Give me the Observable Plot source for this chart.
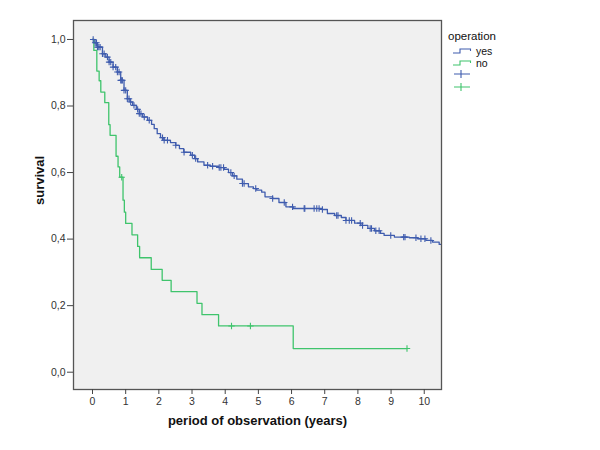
<!DOCTYPE html>
<html><head><meta charset="utf-8">
<script src="https://cdn.jsdelivr.net/npm/d3@7"></script>
<script src="https://cdn.jsdelivr.net/npm/@observablehq/plot@0.6"></script>
<style>body{margin:0;background:#fff;} svg{display:block;}</style>
</head><body><div id="chart"></div>
<script>
// Group "yes" (operation): event times and survival after each step
const yesTime = [0, 0.05, 0.15, 0.30, 0.40, 0.50, 0.62, 0.75, 0.85, 0.95, 1.05, 1.13, 1.21, 1.32, 1.41, 1.51, 1.66, 1.78, 1.86, 1.95, 2.05, 2.15, 2.35, 2.51, 2.62, 2.75, 2.96, 3.08, 3.17, 3.36, 3.55, 3.80, 3.97, 4.10, 4.22, 4.35, 4.52, 4.70, 4.85, 4.95, 5.10, 5.20, 5.43, 5.62, 5.83, 6.05, 6.92, 7.08, 7.30, 7.50, 7.64, 7.90, 8.09, 8.30, 8.50, 8.68, 8.79, 9.10, 9.55, 9.80, 10.05, 10.25, 10.45];
const yesSurv = [1.0, 0.99, 0.977, 0.957, 0.947, 0.932, 0.917, 0.902, 0.877, 0.847, 0.822, 0.812, 0.802, 0.79, 0.777, 0.767, 0.757, 0.745, 0.732, 0.717, 0.705, 0.697, 0.69, 0.682, 0.672, 0.661, 0.652, 0.642, 0.632, 0.622, 0.619, 0.615, 0.61, 0.6, 0.59, 0.58, 0.567, 0.557, 0.552, 0.547, 0.541, 0.527, 0.522, 0.51, 0.497, 0.492, 0.489, 0.477, 0.471, 0.465, 0.456, 0.448, 0.441, 0.432, 0.425, 0.417, 0.411, 0.406, 0.404, 0.401, 0.396, 0.391, 0.384];
const yesCensor = [0.02, 0.08, 0.12, 0.15, 0.19, 0.23, 0.30, 0.35, 0.45, 0.50, 0.55, 0.62, 0.70, 0.75, 0.80, 0.85, 0.88, 0.90, 0.95, 1.0, 1.05, 1.10, 1.15, 1.25, 1.36, 1.41, 1.46, 1.56, 1.71, 2.11, 2.16, 2.26, 2.51, 2.76, 3.01, 3.11, 3.47, 3.62, 3.82, 3.87, 3.95, 4.17, 4.27, 4.52, 4.57, 4.92, 5.43, 5.78, 6.03, 6.38, 6.40, 6.68, 6.76, 6.83, 6.93, 7.36, 7.40, 7.64, 7.74, 7.81, 8.07, 8.14, 8.37, 8.41, 8.54, 8.64, 8.99, 9.38, 9.42, 9.75, 9.90, 10.02, 10.20];
const yesEnd = 10.6;

// Group "no"
const noTime = [0, 0.04, 0.13, 0.20, 0.25, 0.37, 0.49, 0.53, 0.71, 0.77, 0.82, 0.92, 0.96, 1.00, 1.19, 1.36, 1.42, 1.77, 2.10, 2.37, 3.15, 3.30, 3.80, 6.05];
const noSurv = [1.0, 0.967, 0.905, 0.876, 0.842, 0.81, 0.744, 0.712, 0.649, 0.617, 0.586, 0.517, 0.481, 0.447, 0.413, 0.378, 0.344, 0.309, 0.276, 0.242, 0.207, 0.173, 0.139, 0.071];
const noCensor = [0.88, 4.19, 4.76, 9.48];
const noEnd = 9.48;

const xTicks = [0, 1, 2, 3, 4, 5, 6, 7, 8, 9, 10];
const yTicks = [0, 0.2, 0.4, 0.6, 0.8, 1.0];
const groups = ["yes", "no"];
const colors = ["#3f5cae", "#3fc46c"];
const legendTitle = "operation";
const xLabel = "period of observation (years)";
const yLabel = "survival";

function stepAt(times, surv, t) {
  let s = surv[0];
  for (let i = 0; i < times.length; i++) if (times[i] <= t) s = surv[i];
  return s;
}
function curve(times, surv, end, g) {
  const pts = times.map((t, i) => ({t, s: surv[i], g}));
  pts.push({t: end, s: surv[surv.length - 1], g});
  return pts;
}
const lines = [...curve(yesTime, yesSurv, yesEnd, "yes"), ...curve(noTime, noSurv, noEnd, "no")];
const censors = [
  ...yesCensor.map(t => ({t, s: stepAt(yesTime, yesSurv, t), g: "yes"})),
  ...noCensor.map(t => ({t, s: stepAt(noTime, noSurv, t), g: "no"}))
];

const plusSymbol = {
  draw(ctx, size) {
    const r = Math.sqrt(size / Math.PI);
    ctx.moveTo(-r, 0); ctx.lineTo(r, 0);
    ctx.moveTo(0, -r); ctx.lineTo(0, r);
  }
};

const fmt = d => d3.format(".1f")(d).replace(".", ",");
const font = "'Liberation Sans', Arial, sans-serif";

const chart = Plot.plot({
  width: 600, height: 450,
  marginLeft: 73, marginRight: 159, marginTop: 20, marginBottom: 61,
  style: {fontFamily: font, background: "#fff", color: "#222"},
  x: {domain: [-0.573, 10.52]},
  y: {domain: [-0.052, 1.057]},
  color: {domain: groups, range: colors},
  marks: [
    Plot.frame({fill: "#f0f0f0", stroke: null}),
    Plot.line(lines, {x: "t", y: "s", z: "g", stroke: "g", curve: "step-after", strokeWidth: 1.3, clip: true}),
    Plot.dot(censors, {x: "t", y: "s", stroke: "g", symbol: plusSymbol, r: 3.2, strokeWidth: 1.1, clip: true}),
    Plot.frame({stroke: "#555", strokeWidth: 1.3}),
    Plot.axisX({ticks: xTicks, tickSize: 5, tickPadding: 3, fontSize: 10.5, tickFormat: d => String(d), label: null, stroke: "#444", fill: "#333"}),
    Plot.axisY({ticks: yTicks, tickSize: 6, tickPadding: 2, fontSize: 10.5, tickFormat: fmt, label: null, stroke: "#444", fill: "#333"}),
    Plot.text([xLabel], {frameAnchor: "bottom", dy: 35, fontSize: 13, fontWeight: "bold", fill: "#111"}),
    Plot.text([yLabel], {frameAnchor: "left", dx: -34, rotate: -90, fontSize: 13, fontWeight: "bold", fill: "#111"})
  ]
});

// Legend (drawn into the same SVG, to the right of the plot)
const svg = d3.select(chart);
const lg = svg.append("g").attr("font-family", font).attr("text-anchor", "start");
lg.append("text").attr("x", 448).attr("y", 40).attr("font-size", 11.5).attr("fill", "#111").text(legendTitle);
groups.forEach((g, i) => {
  const y = 53 + i * 12;
  lg.append("path").attr("d", `M453,${y}H460V${y - 4}H470.5V${y - 2}`).attr("fill", "none").attr("stroke", colors[i]).attr("stroke-width", 1.1);
  lg.append("text").attr("x", 476).attr("y", y + 2).attr("font-size", 10.5).attr("fill", "#111").text(g);
});
groups.forEach((g, i) => {
  const y = 74 + i * 13;
  lg.append("path").attr("d", `M454,${y}H470M461,${y - 4}V${y + 4}`).attr("fill", "none").attr("stroke", colors[i]).attr("stroke-width", 1.1);
});

document.getElementById("chart").appendChild(chart);
</script>
</body></html>
